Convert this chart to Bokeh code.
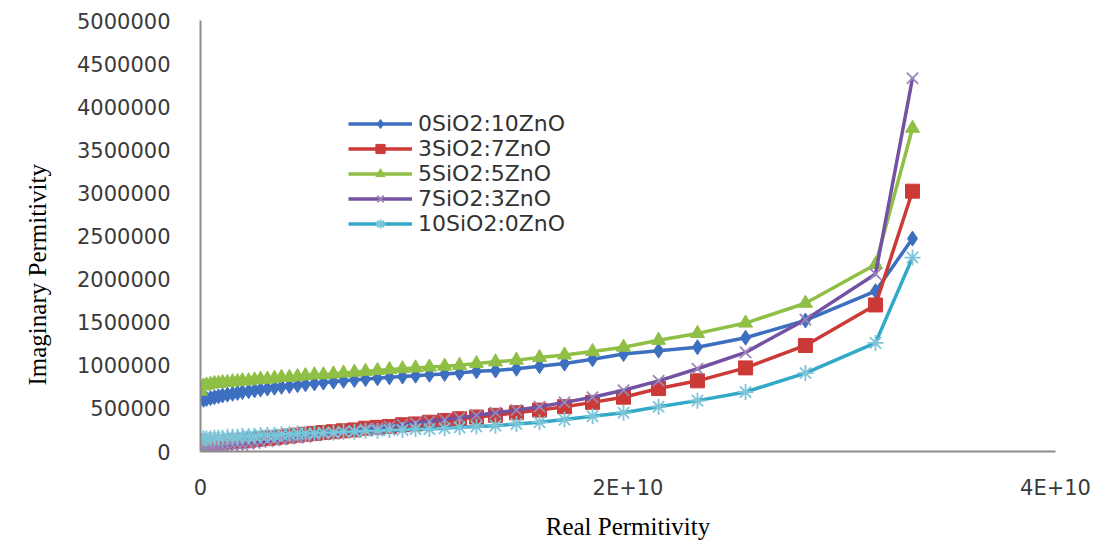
from bokeh.plotting import figure
from bokeh.models import (ColumnDataSource, Range1d, FixedTicker, BasicTickFormatter,
                          CustomJSTickFormatter, Legend, LegendItem, Title)
from bokeh.embed import file_html
from bokeh.resources import INLINE

# Real permittivity (shared x values)
real_perm = [0.0, 1.4e8, 2.8e8, 4.7e8, 6.5e8, 8.4e8, 1.03e9, 1.26e9, 1.50e9, 1.73e9,
             1.96e9, 2.25e9, 2.53e9, 2.81e9, 3.13e9, 3.46e9, 3.79e9, 4.16e9, 4.54e9, 4.91e9,
             5.33e9, 5.75e9, 6.22e9, 6.69e9, 7.20e9, 7.72e9, 8.28e9, 8.84e9, 9.45e9, 1.006e10,
             1.071e10, 1.142e10, 1.212e10, 1.291e10, 1.380e10, 1.478e10, 1.586e10, 1.703e10, 1.834e10, 1.979e10,
             2.143e10, 2.325e10, 2.550e10, 2.830e10, 3.158e10, 3.331e10]

# Imaginary permittivity, in millions
s0_10 = [0.62, 0.60, 0.61, 0.62, 0.63, 0.64, 0.65, 0.66, 0.67, 0.68,
         0.69, 0.70, 0.71, 0.72, 0.73, 0.74, 0.75, 0.76, 0.77, 0.78,
         0.79, 0.80, 0.81, 0.82, 0.83, 0.84, 0.85, 0.86, 0.87, 0.88,
         0.89, 0.90, 0.91, 0.93, 0.94, 0.96, 0.99, 1.02, 1.07, 1.13,
         1.17, 1.21, 1.32, 1.52, 1.86, 2.47]
s3_7 = [0.12, 0.05, 0.08, 0.09, 0.10, 0.10, 0.11, 0.11, 0.12, 0.12,
        0.13, 0.13, 0.14, 0.15, 0.15, 0.16, 0.17, 0.18, 0.19, 0.20,
        0.21, 0.22, 0.23, 0.24, 0.25, 0.27, 0.28, 0.29, 0.31, 0.32,
        0.34, 0.36, 0.38, 0.40, 0.42, 0.45, 0.48, 0.52, 0.57, 0.63,
        0.73, 0.82, 0.97, 1.23, 1.70, 3.02]
s5_5 = [0.70, 0.76, 0.77, 0.78, 0.79, 0.79, 0.80, 0.80, 0.81, 0.81,
        0.82, 0.82, 0.83, 0.84, 0.84, 0.85, 0.86, 0.86, 0.87, 0.88,
        0.89, 0.89, 0.90, 0.91, 0.92, 0.93, 0.94, 0.95, 0.96, 0.97,
        0.98, 0.99, 1.00, 1.02, 1.04, 1.06, 1.09, 1.12, 1.16, 1.21,
        1.29, 1.37, 1.49, 1.72, 2.17, 3.75]
s7_3 = [0.01, 0.02, 0.02, 0.03, 0.04, 0.04, 0.05, 0.06, 0.07, 0.08,
        0.08, 0.09, 0.10, 0.11, 0.12, 0.13, 0.14, 0.15, 0.16, 0.17,
        0.19, 0.20, 0.21, 0.23, 0.24, 0.26, 0.27, 0.29, 0.31, 0.33,
        0.35, 0.37, 0.39, 0.42, 0.45, 0.48, 0.52, 0.57, 0.63, 0.71,
        0.82, 0.96, 1.15, 1.53, 2.06, 4.33]
s10_0 = [0.14, 0.15, 0.15, 0.15, 0.16, 0.16, 0.16, 0.17, 0.17, 0.17,
         0.18, 0.18, 0.18, 0.19, 0.19, 0.19, 0.20, 0.20, 0.21, 0.21,
         0.21, 0.22, 0.22, 0.23, 0.23, 0.24, 0.24, 0.25, 0.25, 0.26,
         0.26, 0.27, 0.28, 0.29, 0.30, 0.32, 0.34, 0.37, 0.41, 0.45,
         0.52, 0.59, 0.69, 0.91, 1.26, 2.25]

series_names = ["0SiO2:10ZnO", "3SiO2:7ZnO", "5SiO2:5ZnO", "7SiO2:3ZnO", "10SiO2:0ZnO"]
series_vals = [s0_10, s3_7, s5_5, s7_3, s10_0]
y_ticks = [0, 500000, 1000000, 1500000, 2000000, 2500000, 3000000, 3500000, 4000000, 4500000, 5000000]
x_ticks = [0, 2e10, 4e10]

line_colors = ["#3d6fc0", "#cc3a37", "#8fbf45", "#7452a3", "#33a9c9"]
marker_colors = ["#3d6fc0", "#cc3a37", "#8fbf45", "#9a86b8", "#7cc4d8"]
markers = ["diamond", "square", "triangle", "x", "asterisk"]
msizes = [15, 14, 14, 16, 16]
mlw = [1, 1, 1, 1.8, 1.8]

p = figure(width=1101, height=543, output_backend="svg", toolbar_location=None,
           x_range=Range1d(0, 4e10), y_range=Range1d(0, 5e6),
           min_border_left=200, min_border_right=46, min_border_top=20, min_border_bottom=92)
p.outline_line_color = None
p.xgrid.visible = False
p.ygrid.visible = False
p.background_fill_color = "white"
p.border_fill_color = "white"

for ax in (p.xaxis[0], p.yaxis[0]):
    ax.axis_line_color = "#8c8c8c"
    ax.axis_line_width = 2
    ax.major_tick_line_color = None
    ax.minor_tick_line_color = None
    ax.major_tick_out = 0
    ax.major_tick_in = 0
    ax.minor_tick_out = 0
    ax.minor_tick_in = 0
    ax.major_label_text_font = "DejaVu Sans"
    ax.major_label_text_font_size = "21px"
    ax.major_label_text_color = "#3a3a3a"

p.yaxis.ticker = FixedTicker(ticks=y_ticks)
p.yaxis.formatter = BasicTickFormatter(use_scientific=False)
p.yaxis.major_label_standoff = 30
p.xaxis.ticker = FixedTicker(ticks=x_ticks)
p.xaxis.formatter = CustomJSTickFormatter(code="return tick == 0 ? '0' : (tick/1e10).toFixed(0) + 'E+10';")
p.xaxis.major_label_standoff = 24
p.xaxis.axis_label = "Real Permitivity"
p.xaxis.axis_label_text_font = "Liberation Serif"
p.xaxis.axis_label_text_font_size = "25px"
p.xaxis.axis_label_text_font_style = "normal"
p.xaxis.axis_label_text_color = "#000000"
p.xaxis.axis_label_standoff = 10

items = []
for name, vals, lc, mc, mk, ms, lw in zip(series_names, series_vals, line_colors, marker_colors, markers, msizes, mlw):
    src = ColumnDataSource(dict(x=real_perm, y=[v * 1e6 for v in vals]))
    r1 = p.line("x", "y", source=src, line_color=lc, line_width=3.5)
    r2 = p.scatter("x", "y", source=src, marker=mk, size=ms, fill_color=mc, line_color=mc, line_width=lw)
    items.append(LegendItem(label=name, renderers=[r1, r2]))

legend = Legend(items=items, location=(148, 215), orientation="vertical",
                glyph_width=64, glyph_height=23, label_height=23, spacing=0,
                padding=0, margin=0, label_standoff=6,
                label_text_font="DejaVu Sans", label_text_font_size="22px",
                label_text_color="#333333", background_fill_alpha=0, border_line_color=None)
p.add_layout(legend, "center")

ytitle = Title(text="Imaginary Permitivity", align="left", offset=66, vertical_align="top",
               standoff=42, text_font="Liberation Serif", text_font_size="25px",
               text_font_style="normal", text_color="#000000")
p.add_layout(ytitle, "left")

open("out.html", "w").write(file_html(p, INLINE))
